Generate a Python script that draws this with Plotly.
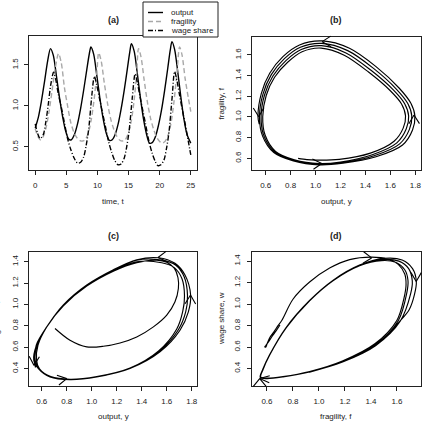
import math
import plotly.graph_objects as go

W = H = 426

# ---------------- Panel (a): time series ----------------
T_OUTPUT = [0, 0.5, 1.0, 1.5, 2.0, 2.45, 2.9, 3.4, 3.9, 4.4, 4.9, 5.4, 5.8, 6.3, 6.8, 7.3, 7.8, 8.3, 8.7, 8.95,
            9.4, 9.9, 10.4, 10.9, 11.4, 11.9, 12.3, 12.8, 13.3, 13.8, 14.3, 14.8, 15.2, 15.45, 15.9, 16.4, 16.9,
            17.4, 17.9, 18.35, 18.8, 19.3, 19.8, 20.3, 20.8, 21.3, 21.7, 21.97, 22.4, 22.9, 23.4, 23.9, 24.4, 25.0]
OUTPUT = [0.73, 0.86, 1.06, 1.30, 1.55, 1.70, 1.62, 1.37, 1.10, 0.87, 0.69, 0.59, 0.585, 0.65, 0.78, 0.97, 1.20,
          1.45, 1.64, 1.72, 1.63, 1.37, 1.09, 0.85, 0.67, 0.58, 0.58, 0.64, 0.77, 0.96, 1.19, 1.45, 1.66, 1.76,
          1.67, 1.40, 1.10, 0.84, 0.65, 0.545, 0.55, 0.62, 0.76, 0.95, 1.19, 1.46, 1.68, 1.785, 1.69, 1.42, 1.11,
          0.84, 0.65, 0.545]

T_FRAG = [0, 0.4, 0.8, 1.2, 1.7, 2.2, 2.7, 3.2, 3.75, 4.2, 4.7, 5.2, 5.7, 6.2, 6.7, 7.2, 7.6, 8.0, 8.5, 9.0, 9.5,
          9.9, 10.2, 10.6, 11.1, 11.6, 12.1, 12.6, 13.1, 13.6, 14.0, 14.4, 14.9, 15.4, 15.9, 16.3, 16.6, 17.0,
          17.5, 18.0, 18.5, 19.0, 19.5, 20.0, 20.4, 20.8, 21.3, 21.8, 22.3, 22.8, 23.2, 23.6, 24.1, 24.6, 25.0]
FRAGILITY = [0.72, 0.63, 0.585, 0.61, 0.72, 0.92, 1.18, 1.45, 1.64, 1.52, 1.22, 1.00, 0.80, 0.68, 0.61, 0.575,
             0.57, 0.585, 0.66, 0.83, 1.10, 1.40, 1.65, 1.55, 1.28, 1.04, 0.85, 0.72, 0.63, 0.58, 0.57, 0.58, 0.65,
             0.80, 1.07, 1.40, 1.70, 1.60, 1.32, 1.06, 0.86, 0.72, 0.62, 0.565, 0.545, 0.56, 0.63, 0.78, 1.05,
             1.42, 1.72, 1.62, 1.33, 1.10, 0.93]

T_WAGE = [0, 0.4, 0.8, 1.3, 1.7, 2.1, 2.5, 2.95, 3.3, 3.7, 4.2, 4.6, 5.2, 5.7, 6.2, 6.8, 7.3, 7.8, 8.2, 8.6, 9.1,
          9.5, 9.9, 10.3, 10.8, 11.2, 11.8, 12.3, 12.8, 13.3, 13.8, 14.3, 14.7, 15.1, 15.6, 16.05, 16.4, 16.8,
          17.3, 17.7, 18.3, 18.8, 19.3, 19.7, 20.2, 20.7, 21.1, 21.5, 22.0, 22.4, 22.8, 23.2, 23.7, 24.1, 24.6, 25.0]
WAGE = [0.78, 0.66, 0.60, 0.65, 0.80, 1.02, 1.26, 1.41, 1.32, 1.15, 0.98, 0.83, 0.60, 0.47, 0.37, 0.30, 0.31, 0.38,
        0.52, 0.72, 1.13, 1.36, 1.25, 1.10, 0.92, 0.78, 0.56, 0.43, 0.33, 0.28, 0.29, 0.36, 0.50, 0.70, 1.10, 1.39,
        1.29, 1.13, 0.94, 0.79, 0.56, 0.42, 0.32, 0.27, 0.28, 0.34, 0.48, 0.68, 1.10, 1.42, 1.30, 1.13, 0.93, 0.78,
        0.57, 0.40]

# ---------------- Panel (b): output vs fragility ----------------
B_Y = [0.86, 0.93, 1.0,
       1.19, 1.44, 1.63, 1.703, 1.722, 1.690, 1.60, 1.425, 1.23, 1.044, 0.892, 0.774, 0.671, 0.604, 0.576, 0.595, 0.679, 0.83,
       1.03, 1.20, 1.455, 1.652, 1.728, 1.747, 1.715, 1.624, 1.445, 1.244, 1.047, 0.885, 0.762, 0.658, 0.591, 0.563, 0.585, 0.672, 0.826,
       1.03, 1.21, 1.47, 1.675, 1.753, 1.772, 1.740, 1.648, 1.465, 1.258, 1.05, 0.878, 0.75, 0.645, 0.578, 0.55, 0.575, 0.665, 0.822,
       1.03, 1.22, 1.485, 1.698, 1.778, 1.797, 1.765, 1.672, 1.485, 1.272, 1.053, 0.871, 0.738, 0.632, 0.565, 0.538, 0.548]
B_F = [0.60, 0.588, 0.583,
       0.59, 0.65, 0.765, 0.892, 1.01, 1.126, 1.254, 1.435, 1.598, 1.667, 1.631, 1.527, 1.384, 1.208, 1.003, 0.825, 0.667, 0.586,
       0.549, 0.564, 0.635, 0.75, 0.886, 1.01, 1.128, 1.262, 1.452, 1.62, 1.69, 1.653, 1.546, 1.397, 1.215, 1.003, 0.82, 0.661, 0.58,
       0.543, 0.558, 0.625, 0.74, 0.88, 1.01, 1.13, 1.27, 1.47, 1.642, 1.712, 1.675, 1.565, 1.41, 1.222, 1.003, 0.815, 0.655, 0.574,
       0.536, 0.552, 0.615, 0.729, 0.874, 1.009, 1.132, 1.278, 1.487, 1.665, 1.736, 1.697, 1.584, 1.423, 1.229, 1.003, 0.93]

# ---------------- Panel (c): output vs wage share ----------------
C_Y = [0.706, 0.826, 0.96, 1.093, 1.226, 1.36, 1.493, 1.60, 1.666, 1.693, 1.69, 1.66, 1.60, 1.52,
       1.36, 1.173, 0.96, 0.773, 0.64, 0.57, 0.558, 0.582, 0.672, 0.826, 1.04, 1.306, 1.535, 1.68, 1.728, 1.742, 1.722, 1.66, 1.56,
       1.36, 1.173, 0.96, 0.773, 0.64, 0.563, 0.547, 0.577, 0.67, 0.826, 1.04, 1.306, 1.54, 1.693, 1.752, 1.766, 1.74, 1.67, 1.56,
       1.36, 1.173, 0.96, 0.773, 0.64, 0.558, 0.536, 0.573, 0.666, 0.826, 1.04, 1.306, 1.546, 1.706, 1.773, 1.791, 1.746, 1.666, 1.533,
       1.36, 1.173, 0.96, 0.773, 0.64, 0.556, 0.54, 0.55]
C_W = [0.775, 0.665, 0.603, 0.609, 0.64, 0.696, 0.79, 0.90, 1.025, 1.15, 1.25, 1.34, 1.395, 1.415,
       1.392, 1.312, 1.172, 0.988, 0.79, 0.62, 0.48, 0.398, 0.325, 0.30, 0.325, 0.405, 0.565, 0.77, 0.935, 1.08, 1.24, 1.345, 1.39,
       1.40, 1.317, 1.176, 0.99, 0.789, 0.62, 0.479, 0.398, 0.323, 0.298, 0.323, 0.402, 0.56, 0.763, 0.932, 1.084, 1.258, 1.37, 1.415,
       1.415, 1.322, 1.18, 0.994, 0.79, 0.619, 0.478, 0.40, 0.321, 0.296, 0.321, 0.40, 0.556, 0.759, 0.931, 1.088, 1.275, 1.385, 1.437,
       1.418, 1.325, 1.182, 0.996, 0.79, 0.62, 0.478, 0.41]

# ---------------- Panel (d): fragility vs wage share ----------------
D_F = [0.70, 0.67, 0.64, 0.61, 0.59, 0.583, 0.592, 0.602, 0.622, 0.652, 0.682, 0.715, 0.80, 0.928, 1.082, 1.236, 1.403,
       1.53, 1.61, 1.66, 1.67, 1.655,
       1.60, 1.43, 1.18, 0.928, 0.723, 0.60, 0.552, 0.57, 0.621, 0.749, 0.928, 1.108, 1.313, 1.48, 1.59, 1.66, 1.685, 1.675,
       1.61, 1.435, 1.182, 0.928, 0.723, 0.60, 0.55, 0.568, 0.62, 0.748, 0.927, 1.108, 1.313, 1.49, 1.615, 1.69, 1.718, 1.705,
       1.625, 1.44, 1.183, 0.928, 0.723, 0.60, 0.548, 0.567, 0.619, 0.747, 0.926, 1.107, 1.312, 1.50, 1.64, 1.72, 1.749, 1.735,
       1.695, 1.618, 1.438, 1.182, 0.928]
D_W = [0.805, 0.75, 0.70, 0.645, 0.612, 0.600, 0.600, 0.634, 0.689, 0.739, 0.794, 0.85, 1.045, 1.205, 1.335, 1.414, 1.437,
       1.42, 1.37, 1.28, 1.18, 1.06,
       0.85, 0.63, 0.47, 0.372, 0.325, 0.31, 0.32, 0.39, 0.525, 0.78, 1.03, 1.217, 1.357, 1.405, 1.39, 1.32, 1.22, 1.10,
       0.845, 0.622, 0.465, 0.370, 0.323, 0.308, 0.318, 0.39, 0.525, 0.781, 1.031, 1.219, 1.36, 1.415, 1.40, 1.33, 1.215, 1.095,
       0.84, 0.617, 0.462, 0.368, 0.322, 0.306, 0.316, 0.39, 0.525, 0.782, 1.032, 1.221, 1.363, 1.425, 1.41, 1.33, 1.213, 1.09,
       0.95, 0.835, 0.614, 0.46, 0.366]

# arrow heads: tip (x, y) and the screen angles (deg) of its two barbs
B_ARROWS = [(1.053, 1.729, 33, -30), (0.544, 1.003, 122, 60), (1.05, 0.55, 155, 215), (1.79, 1.02, 240, 302)]
C_ARROWS = [(1.53, 1.44, 37, -25), (1.79, 1.088, 238, 300), (0.538, 0.43, 118, 58), (0.80, 0.306, 161, 219)]
D_ARROWS = [(1.405, 1.43, 142, 212), (1.748, 1.21, 60, 120), (0.544, 0.306, 16, -23), (0.544, 0.306, 231, 310)]

LEGEND_LABELS = ["output", "fragility", "wage share"]

# ---------------- figure ----------------
INK = "#222222"
FONT = "Liberation Sans, Arial, sans-serif"

fig = go.Figure()

line_styles = [dict(color="black", width=1.4, dash="solid"),
               dict(color="#a8a8a8", width=1.4, dash="5px,3px"),
               dict(color="black", width=1.4, dash="5px,2px,1px,2px")]

for (tx, vals), st, name in zip([(T_OUTPUT, OUTPUT), (T_FRAG, FRAGILITY), (T_WAGE, WAGE)], line_styles, LEGEND_LABELS):
    fig.add_trace(go.Scatter(x=tx, y=vals, mode="lines", name=name, showlegend=False,
                             line=dict(shape="spline", smoothing=0.8, **st), xaxis="x", yaxis="y"))

for xs, ys, ax in [(B_Y, B_F, "2"), (C_Y, C_W, "3"), (D_F, D_W, "4")]:
    fig.add_trace(go.Scatter(x=xs, y=ys, mode="lines", showlegend=False,
                             line=dict(color="black", width=1.15, shape="spline", smoothing=0.9),
                             xaxis="x" + ax, yaxis="y" + ax))


def px(v):
    return v / W


def py(v):
    return 1 - v / H


def axis(dom, rng, tickvals, ticktext, anchor, vertical=False):
    d = dict(domain=dom, range=rng, tickvals=tickvals, ticktext=ticktext, anchor=anchor,
             showline=True, mirror=True, linecolor=INK, linewidth=1, ticks="outside", ticklen=4,
             tickwidth=1, tickcolor=INK, showgrid=False, zeroline=False,
             tickfont=dict(family=FONT, size=8, color=INK), ticklabelstandoff=3)
    if vertical:
        d["tickangle"] = -90
    return d


xa = [px(29), px(197)]
xb = [px(252), px(421)]
ya_top = [py(170), py(36)]
ya_bot = [py(386), py(252)]

dec = lambda vals: [f"{v:.1f}" for v in vals]
t_ticks = [0, 5, 10, 15, 20, 25]
ticks_y = [0.6, 0.8, 1.0, 1.2, 1.4, 1.6, 1.8]
ticks_f = [0.6, 0.8, 1.0, 1.2, 1.4, 1.6]
ticks_w = [0.4, 0.6, 0.8, 1.0, 1.2, 1.4]

fig.update_layout(
    width=W, height=H, margin=dict(l=0, r=0, t=0, b=0),
    paper_bgcolor="white", plot_bgcolor="white", showlegend=False,
    xaxis=axis(xa, [-1, 26], t_ticks, [str(v) for v in t_ticks], "y"),
    yaxis=axis(ya_top, [0.216, 1.854], [0.5, 1.0, 1.5], dec([0.5, 1.0, 1.5]), "x", True),
    xaxis2=axis(xb, [0.49, 1.846], ticks_y, dec(ticks_y), "y2"),
    yaxis2=axis([py(170), py(37)], [0.487, 1.774], ticks_f, dec(ticks_f), "x2", True),
    xaxis3=axis(xa, [0.498, 1.842], ticks_y, dec(ticks_y), "y3"),
    yaxis3=axis(ya_bot, [0.237, 1.491], ticks_w, dec(ticks_w), "x3", True),
    xaxis4=axis([px(251.5), px(421)], [0.481, 1.785], ticks_f, dec(ticks_f), "y4"),
    yaxis4=axis(ya_bot, [0.237, 1.485], ticks_w, dec(ticks_w), "x4", True),
)

ann = []


def text(x, y, s, size=8, bold=False, angle=0, anchor="center"):
    ann.append(dict(x=px(x), y=py(y), xref="paper", yref="paper", text=f"<b>{s}</b>" if bold else s,
                    showarrow=False, textangle=angle, xanchor=anchor, yanchor="middle",
                    font=dict(family=FONT, size=size, color=INK)))


text(113, 20, "(a)", 9, True)
text(336, 20, "(b)", 9, True)
text(113, 236, "(c)", 9, True)
text(336, 236, "(d)", 9, True)
text(113, 202, "time, t")
text(336, 202, "output, y")
text(221, 103.5, "fragility, f", angle=-90)
text(113, 416, "output, y")
text(-4.5, 319, "wage share, w", angle=-90)
text(336, 416, "fragility, f")
text(221, 319, "wage share, w", angle=-90)

# arrows
BARB = 12
for arrows, ax in [(B_ARROWS, "2"), (C_ARROWS, "3"), (D_ARROWS, "4")]:
    for (x0, y0, a1, a2) in arrows:
        for a in (a1, a2):
            r = math.radians(a)
            ann.append(dict(x=x0, y=y0, xref="x" + ax, yref="y" + ax, text="", showarrow=True,
                            arrowhead=0, arrowwidth=1.1, arrowcolor="black", standoff=0, startstandoff=0,
                            ax=BARB * math.cos(r), ay=-BARB * math.sin(r)))

# legend (drawn by hand, R style)
shapes = [dict(type="rect", xref="paper", yref="paper", x0=px(143), x1=px(218), y0=py(37), y1=py(2),
               line=dict(color=INK, width=1), fillcolor="white", layer="above")]
rows = [12.5, 21.5, 30.5]
for r, st, lab in zip(rows, line_styles, LEGEND_LABELS):
    shapes.append(dict(type="line", xref="paper", yref="paper", x0=px(148), x1=px(163), y0=py(r), y1=py(r),
                       line=dict(color=st["color"], width=1.4, dash=st["dash"]), layer="above"))
    ann.append(dict(x=px(169), y=py(r), xref="paper", yref="paper", text=lab, showarrow=False,
                    xanchor="left", yanchor="middle", font=dict(family=FONT, size=8, color=INK)))

fig.update_layout(annotations=ann, shapes=shapes)
fig.write_html("out.html")
